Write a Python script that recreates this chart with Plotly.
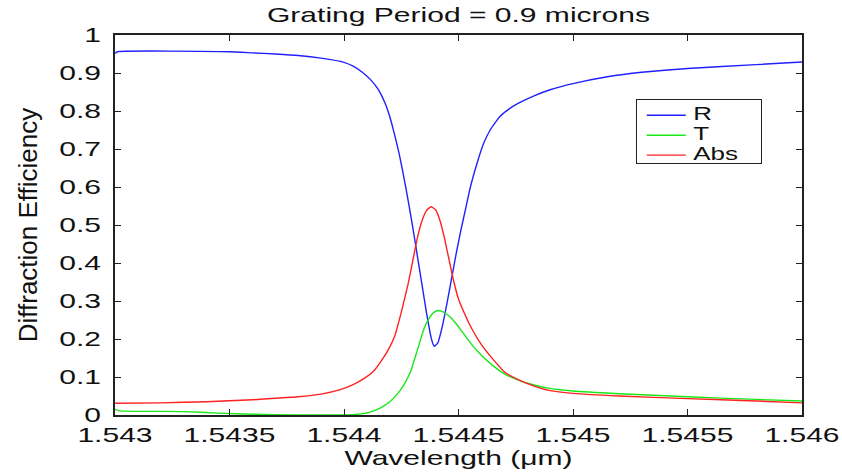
import plotly.graph_objects as go

# ---- data ----
r_wl = [1.5430, 1.54301, 1.5435, 1.5436, 1.5437, 1.5438, 1.5439, 1.5440, 1.54404,
        1.54408, 1.54412, 1.54415, 1.54418, 1.54420, 1.54422, 1.54424, 1.54426, 1.54428,
        1.54430, 1.54432, 1.54434, 1.54436, 1.54438, 1.54439, 1.544395, 1.54441, 1.54443,
        1.54445, 1.54447, 1.54449, 1.54451, 1.54453, 1.54455, 1.54457, 1.54459, 1.54461,
        1.54464, 1.54468, 1.54472, 1.54476, 1.54483, 1.5449, 1.5450, 1.54515, 1.5453,
        1.5455, 1.5458, 1.5460]
r_val = [0.951, 0.956, 0.956, 0.953, 0.950, 0.946, 0.939, 0.928, 0.918,
         0.902, 0.880, 0.856, 0.820, 0.785, 0.740, 0.690, 0.630, 0.565,
         0.495, 0.420, 0.345, 0.270, 0.205, 0.185, 0.181, 0.190, 0.235,
         0.295, 0.360, 0.425, 0.485, 0.540, 0.595, 0.640, 0.680, 0.715,
         0.752, 0.785, 0.805, 0.820, 0.840, 0.856, 0.872, 0.890, 0.902,
         0.912, 0.922, 0.929]

t_wl = [1.5430, 1.54302, 1.5433, 1.54345, 1.5436, 1.5438, 1.5440, 1.54406, 1.54411,
        1.54416, 1.54420, 1.54423, 1.54426, 1.54429, 1.54432, 1.54435, 1.54437, 1.54439,
        1.54441, 1.54443, 1.54446, 1.54449, 1.54452, 1.54456, 1.5446, 1.54465, 1.54471,
        1.54477, 1.54483, 1.5449, 1.5450, 1.5452, 1.5455, 1.5458, 1.5460]
t_val = [0.015, 0.011, 0.009, 0.005, 0.002, 0.000, 0.000, 0.002, 0.007,
         0.019, 0.035, 0.053, 0.078, 0.113, 0.170, 0.228, 0.253, 0.269,
         0.275, 0.272, 0.260, 0.240, 0.216, 0.184, 0.157, 0.130, 0.105,
         0.090, 0.079, 0.070, 0.063, 0.056, 0.048, 0.041, 0.037]

a_wl = [1.5430, 1.5432, 1.5434, 1.5436, 1.5437, 1.5438, 1.5439, 1.54398, 1.54404,
        1.54409, 1.54413, 1.54416, 1.54419, 1.54422, 1.54425, 1.54428, 1.54430, 1.54432,
        1.54434, 1.54436, 1.54438, 1.54440, 1.54442, 1.54444, 1.54446, 1.54448, 1.54450,
        1.54453, 1.54456, 1.5446, 1.54465, 1.5447, 1.54476, 1.54483, 1.5449, 1.5450,
        1.5452, 1.5455, 1.5458, 1.5460]
a_val = [0.031, 0.032, 0.035, 0.040, 0.044, 0.048, 0.055, 0.066, 0.080,
         0.097, 0.116, 0.140, 0.168, 0.205, 0.270, 0.345, 0.405, 0.465,
         0.510, 0.538, 0.548, 0.540, 0.510, 0.462, 0.405, 0.350, 0.305,
         0.262, 0.225, 0.185, 0.147, 0.114, 0.093, 0.076, 0.064, 0.057,
         0.050, 0.043, 0.037, 0.032]

x_ticks = [1.543, 1.5435, 1.544, 1.5445, 1.545, 1.5455, 1.546]
x_tick_text = ["1.543", "1.5435", "1.544", "1.5445", "1.545", "1.5455", "1.546"]
y_ticks = [0, 0.1, 0.2, 0.3, 0.4, 0.5, 0.6, 0.7, 0.8, 0.9, 1]
y_tick_text = ["0", "0.1", "0.2", "0.3", "0.4", "0.5", "0.6", "0.7", "0.8", "0.9", "1"]

FONT = "Liberation Sans, Arial, sans-serif"
LINE = dict(width=1.4, shape="spline", smoothing=0.4)

fig = go.Figure()
fig.add_trace(go.Scatter(x=r_wl, y=r_val, name="R", mode="lines",
                         line=dict(color="#2020ff", **LINE)))
fig.add_trace(go.Scatter(x=t_wl, y=t_val, name="T", mode="lines",
                         line=dict(color="#18e818", **LINE)))
fig.add_trace(go.Scatter(x=a_wl, y=a_val, name="Abs", mode="lines",
                         line=dict(color="#ff2020", **LINE)))

axis_common = dict(showgrid=False, zeroline=False, showline=True, linecolor="#222",
                   linewidth=1.5, mirror="ticks", ticks="inside", ticklen=6,
                   tickcolor="#222", tickwidth=1,
                   tickfont=dict(family=FONT, size=21, color="#111"))

fig.update_layout(
    width=842, height=475,
    margin=dict(l=115, r=40, t=35, b=48),
    paper_bgcolor="white", plot_bgcolor="white",
    title=dict(text="Grating Period = 0.9 microns", x=0.5, xref="paper",
               y=1 - 15 / 475, yref="container", yanchor="middle", xanchor="center",
               font=dict(family=FONT, size=21, color="#111")),
    xaxis=dict(range=[1.543, 1.546], tickvals=x_ticks, ticktext=x_tick_text,
               title=dict(text="Wavelength (μm)", font=dict(family=FONT, size=21, color="#111"),
                          standoff=2),
               **axis_common),
    yaxis=dict(range=[0, 1], tickvals=y_ticks, ticktext=y_tick_text,
               ticklabelstandoff=8,
               title=dict(text="Diffraction Efficiency", font=dict(family=FONT, size=26, color="#111"),
                          standoff=27),
               **axis_common),
    legend=dict(x=0.758, y=0.832, xanchor="left", yanchor="top",
                bgcolor="white", bordercolor="#222", borderwidth=1.5,
                font=dict(family=FONT, size=13, color="#111"),
                tracegroupgap=0),
    showlegend=True,
)

# The reference's horizontal texts are rendered wider than normal; widen them in place.
post_js = """
var gd = document.getElementById('{plot_id}');
function stretch(root, sel, sx, sy, dx) {
  root.querySelectorAll(sel).forEach(function(t) {
    var ax = parseFloat(t.getAttribute('x')) || 0;
    var ay = parseFloat(t.getAttribute('y')) || 0;
    var tr = t.getAttribute('transform') || '';
    t.setAttribute('transform', tr + ' translate(' + (ax + dx) + ',' + ay + ') scale(' + sx + ',' + sy +
                   ') translate(' + (-ax) + ',' + (-ay) + ')');
  });
}
stretch(gd, '.xtick text', 1.43, 1, 0);
stretch(gd, '.ytick text', 1.43, 1, 0);
stretch(gd, '.gtitle', 1.43, 1, 0);
stretch(gd, '.xtitle', 1.43, 1, 0);
var leg = gd.querySelector('.legend');
if (leg) {
  var W = 125, H = 64;
  var bg = leg.querySelector('rect.bg');
  if (bg) { bg.setAttribute('width', W); bg.setAttribute('height', H); }
  document.querySelectorAll('clipPath').forEach(function(c) {
    if ((c.id || '').indexOf('legend') === 0) {
      c.querySelectorAll('rect').forEach(function(r) { r.setAttribute('width', W); r.setAttribute('height', H); });
    }
  });
  leg.querySelectorAll('.legendlines path').forEach(function(p) {
    p.setAttribute('transform', 'translate(3,0) scale(1.3,1)');
  });
  stretch(leg, 'text.legendtext', 2.0, 1.45, 16);
}
"""

fig.write_html("out.html", post_script=post_js)
